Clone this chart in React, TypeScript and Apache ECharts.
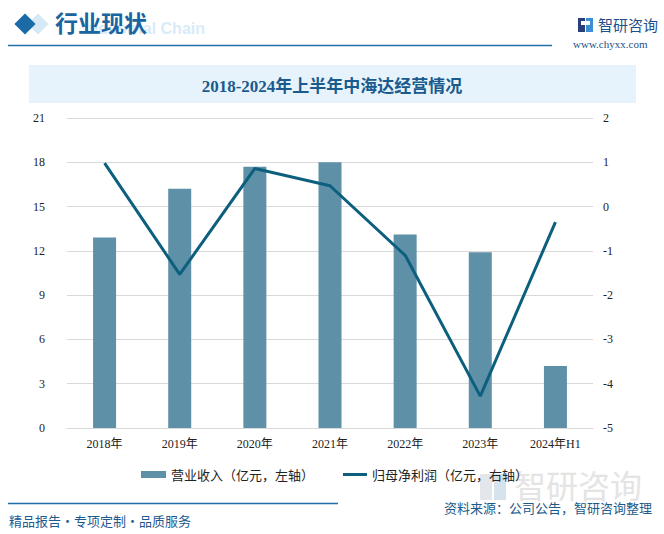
import React, { useEffect, useRef } from "react";
import * as echarts from "echarts";

const categories = ["2018年", "2019年", "2020年", "2021年", "2022年", "2023年", "2024年H1"];
const revenue = [12.9, 16.2, 17.7, 18.0, 13.1, 11.9, 4.2];
const netProfit = [0.98, -1.53, 0.86, 0.47, -1.1, -4.28, -0.35];
const leftTicks = { min: 0, max: 21, interval: 3 };
const rightTicks = { min: -5, max: 2, interval: 1 };
const seriesNames = ["营业收入（亿元，左轴）", "归母净利润（亿元，右轴）"];

const serif = "'Liberation Serif', 'Times New Roman', 'Noto Sans CJK SC', serif";
const cjk = "'Noto Sans CJK SC', 'Microsoft YaHei', sans-serif";

export default function App() {
  const ref = useRef<HTMLDivElement>(null);
  useEffect(() => {
    if (!ref.current) return;
    const chart = echarts.init(ref.current, null, { renderer: "svg" });
    const legendText = { fontFamily: cjk, fontSize: 13, color: "#222" };
    chart.setOption({
      animation: false,
      backgroundColor: "#ffffff",
      graphic: [
        // header diamonds
        { type: "rect", x: 38, y: 24, shape: { x: -7.5, y: -7.5, width: 15, height: 15 }, rotation: Math.PI / 4, style: { fill: "#d6e8f4" } },
        { type: "rect", x: 25, y: 24, shape: { x: -7.5, y: -7.5, width: 15, height: 15 }, rotation: Math.PI / 4, style: { fill: "#1a6aa5" } },
        { type: "text", x: 205, y: 20, style: { text: "Industrial Chain", font: "bold 16px Arial, 'Liberation Sans', sans-serif", fill: "#d8ebf9", align: "right" } },
        { type: "text", x: 55, y: 10, style: { text: "行业现状", font: `bold 23px ${cjk}`, fill: "#1a64a0" } },
        { type: "line", shape: { x1: 8, y1: 45.5, x2: 552, y2: 45.5 }, style: { stroke: "#1f6ea6", lineWidth: 1.5 } },
        // top-right logo
        { type: "rect", shape: { x: 578, y: 18, width: 7, height: 14 }, style: { fill: "#2a3f7a" } },
        { type: "rect", shape: { x: 586, y: 18, width: 7, height: 14 }, style: { fill: "#3b8fd6" } },
        { type: "rect", shape: { x: 581, y: 21, width: 9, height: 4 }, style: { fill: "#ffffff" } },
        { type: "text", x: 598, y: 17, style: { text: "智研咨询", font: `15px ${cjk}`, fill: "#1f4f86" } },
        { type: "text", x: 573, y: 38, style: { text: "www.chyxx.com", font: `11px ${serif}`, fill: "#1f4f86" } },
        // title band
        { type: "rect", shape: { x: 29, y: 65, width: 607, height: 38 }, style: { fill: "#e6f3fc" } },
        { type: "text", x: 332, y: 86, style: { text: "2018-2024年上半年中海达经营情况", font: `bold 17px ${serif}`, fill: "#1a5a8c", align: "center", verticalAlign: "middle" } },
        // watermark bottom-right
        { type: "rect", shape: { x: 480, y: 474, width: 12, height: 26 }, style: { fill: "#e3e6ea" } },
        { type: "rect", shape: { x: 494, y: 474, width: 12, height: 26 }, style: { fill: "#d6e3ef" } },
        { type: "text", x: 514, y: 468, style: { text: "智研咨询", font: `32px ${cjk}`, fill: "#e4e4e4" } },
        // footer
        { type: "line", shape: { x1: 8, y1: 503.5, x2: 338, y2: 503.5 }, style: { stroke: "#1f6ea6", lineWidth: 1.5 } },
        { type: "text", x: 652, y: 507, style: { text: "资料来源：公司公告，智研咨询整理", font: `13px ${cjk}`, fill: "#1d5a8a", align: "right", verticalAlign: "middle" } },
        { type: "text", x: 9, y: 520, style: { text: "精品报告·专项定制·品质服务", font: `13px ${cjk}`, fill: "#1f5a8f", verticalAlign: "middle" } },
      ],
      legend: [
        {
          top: 463,
          left: 136,
          itemWidth: 25,
          itemHeight: 7,
          itemGap: 4,
          textStyle: legendText,
          data: [{ name: seriesNames[0], icon: "rect" }],
        },
        {
          top: 463,
          left: 338,
          itemWidth: 24,
          itemHeight: 3,
          textStyle: legendText,
          data: [{ name: seriesNames[1], icon: "rect" }],
        },
      ],
      grid: { left: 67, right: 71, top: 118, bottom: 106, containLabel: false },
      xAxis: {
        type: "category",
        data: categories,
        axisLine: { lineStyle: { color: "#d9d9d9" } },
        axisTick: { show: false },
        axisLabel: { fontFamily: serif, fontSize: 12, color: "#222", margin: 10 },
      },
      yAxis: [
        {
          type: "value",
          min: leftTicks.min,
          max: leftTicks.max,
          interval: leftTicks.interval,
          axisLine: { show: false },
          axisTick: { show: false },
          axisLabel: { fontFamily: serif, fontSize: 12, color: "#222", margin: 22 },
          splitLine: { lineStyle: { color: "#d9d9d9" } },
        },
        {
          type: "value",
          min: rightTicks.min,
          max: rightTicks.max,
          interval: rightTicks.interval,
          axisLine: { show: false },
          axisTick: { show: false },
          axisLabel: { fontFamily: serif, fontSize: 12, color: "#222", margin: 10 },
          splitLine: { show: false },
        },
      ],
      series: [
        {
          name: seriesNames[0],
          type: "bar",
          yAxisIndex: 0,
          data: revenue,
          barWidth: 23,
          itemStyle: { color: "#5e91a8" },
        },
        {
          name: seriesNames[1],
          type: "line",
          yAxisIndex: 1,
          data: netProfit,
          symbol: "none",
          lineStyle: { color: "#0d5f7e", width: 3 },
          itemStyle: { color: "#0d5f7e" },
        },
      ],
    });
    return () => chart.dispose();
  }, []);
  return <div ref={ref} style={{ position: "absolute", left: 0, top: 0, width: 664, height: 534 }} />;
}
